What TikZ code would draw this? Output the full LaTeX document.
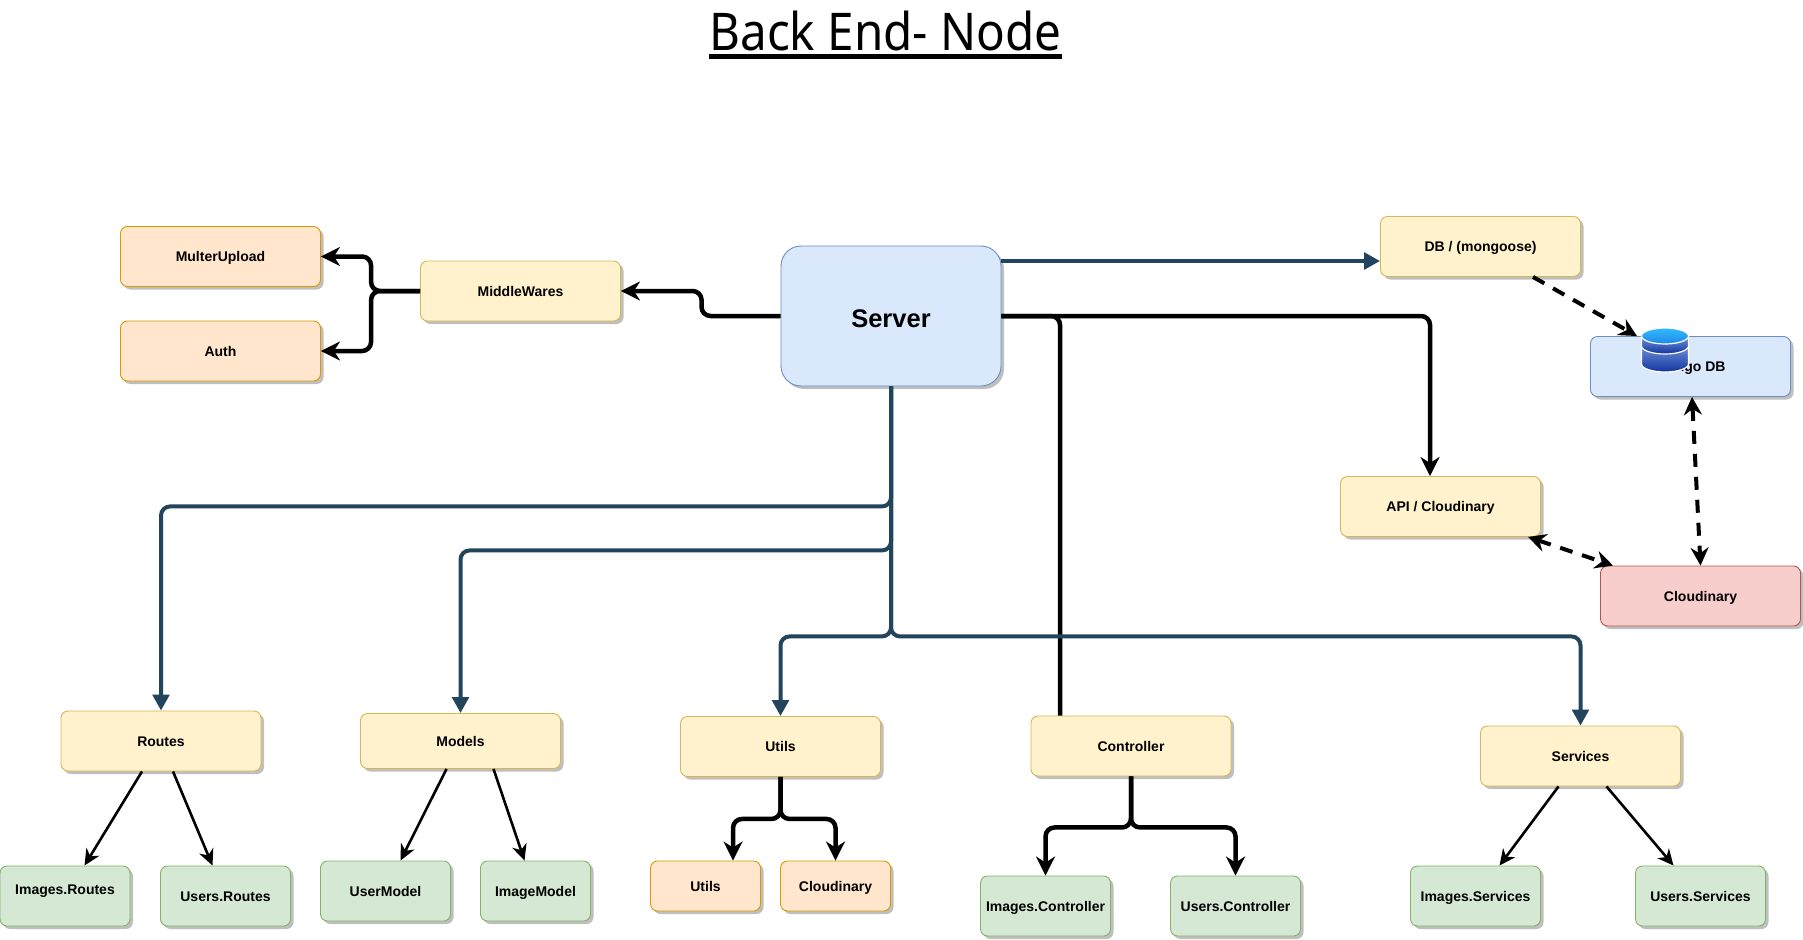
\documentclass[tikz,border=0pt]{standalone}
\usepackage{fontspec}
\setmainfont{Liberation Sans}
\newfontfamily\titlefont[FakeStretch=0.915]{Noto Sans}
\usetikzlibrary{arrows.meta}
\usetikzlibrary{shadows}
\definecolor{linkblue}{HTML}{23445D}
\definecolor{yellowfill}{HTML}{FFF2CC}
\definecolor{yellowline}{HTML}{D6B656}
\definecolor{orangefill}{HTML}{FFE6CC}
\definecolor{orangeline}{HTML}{D79B00}
\definecolor{greenfill}{HTML}{D5E8D4}
\definecolor{greenline}{HTML}{82B366}
\definecolor{bluefill}{HTML}{DAE8FC}
\definecolor{blueline}{HTML}{6C8EBF}
\definecolor{redfill}{HTML}{F8CECC}
\definecolor{redline}{HTML}{B85450}
\definecolor{disctop}{HTML}{7396DC}
\definecolor{discbottom}{HTML}{1234A0}
\definecolor{captop}{HTML}{33BBFF}
\definecolor{capbottom}{HTML}{1E88E6}
\tikzset{
	% Boxes: one base style and one style for each colour
	box/.style={rectangle,rounded corners=7pt,draw,line width=0.9pt,inner sep=0,text height=10.5pt,text depth=0.5pt,font=\bfseries\fontsize{14}{16}\selectfont,drop shadow={shadow xshift=3pt,shadow yshift=-3pt,fill=black!25,draw=none,opacity=1}},
	yellow box/.style={box,fill=yellowfill,draw=yellowline},
	orange box/.style={box,fill=orangefill,draw=orangeline},
	green box/.style={box,fill=greenfill,draw=greenline},
	blue box/.style={box,fill=bluefill,draw=blueline},
	red box/.style={box,fill=redfill,draw=redline},
	% Connectors: black ones and dark blue ones
	black link/.style={draw=black,line width=4.5pt,rounded corners=9pt,-{Stealth[length=19pt,width=19pt,inset=6pt]}},
	thin link/.style={draw=black,line width=2.6pt,-{Stealth[length=16pt,width=15pt,inset=5pt]}},
	blue link/.style={draw=linkblue,line width=4pt,rounded corners=9pt,-{Triangle[length=16pt,width=16.5pt]}},
	dash link/.style={draw=black,line width=4pt,dash pattern=on 13pt off 10pt,-{Stealth[length=18pt,width=18pt,inset=6pt]}},
	both link/.style={dash link,{Stealth[length=18pt,width=18pt,inset=6pt]}-{Stealth[length=18pt,width=18pt,inset=6pt]}},
	% The stacked discs of the database icon
	disc/.style={draw=white,line width=1.2pt,top color=disctop,bottom color=discbottom}
}

\begin{document}
\begin{tikzpicture}[x=1pt,y=-1pt]
	\useasboundingbox (0,-1) rectangle (1803,938);

	\node(title)[inner sep=0,anchor=base,font=\titlefont\fontsize{52}{60}\selectfont] at (885.5,49.7) {Back End- Node};
	\draw[line width=5pt] ([yshift=-6pt]title.base west) -- ([yshift=-6pt]title.base east);

	% Top row
	\node(server)[blue box,minimum width=220pt,minimum height=140pt,rounded corners=20pt,font=\bfseries\fontsize{25.5}{30}\selectfont,text height=24pt] at (891,315) {Server};
	\node(middlewares)[yellow box,minimum width=200pt,minimum height=60pt] at (520.5,290) {MiddleWares};
	\node(multer)[orange box,minimum width=200pt,minimum height=60pt] at (220.5,255.5) {MulterUpload};
	\node(auth)[orange box,minimum width=200pt,minimum height=60pt] at (220.5,350) {Auth};
	\node(db)[yellow box,minimum width=200pt,minimum height=60pt] at (1480.5,245.5) {DB / (mongoose)};
	\node(mongo)[blue box,minimum width=200pt,minimum height=60pt] at (1690.5,365.5) {Mongo DB};
	\node(api)[yellow box,minimum width=200pt,minimum height=60pt] at (1440.5,505.5) {API / Cloudinary};
	\node(cloud)[red box,minimum width=200pt,minimum height=60pt] at (1700.5,595) {Cloudinary};

	% Second level
	\node(routes)[yellow box,minimum width=200pt,minimum height=60pt] at (161,740) {Routes};
	\node(models)[yellow box,minimum width=200pt,minimum height=55pt] at (460.5,740) {Models};
	\node(utils)[yellow box,minimum width=200pt,minimum height=60pt] at (780.5,745.5) {Utils};
	\node(controller)[yellow box,minimum width=200pt,minimum height=60pt] at (1131,745) {Controller};
	\node(services)[yellow box,minimum width=200pt,minimum height=60pt] at (1580.5,755) {Services};

	% Leaves
	\node(imgroutes)[green box,minimum width=130pt,minimum height=60pt] at (65,895) {\raisebox{7pt}{Images.Routes}};
	\node(userroutes)[green box,minimum width=130pt,minimum height=60pt] at (225.5,895) {Users.Routes};
	\node(usermodel)[green box,minimum width=130pt,minimum height=60pt] at (385.5,890) {UserModel};
	\node(imagemodel)[green box,minimum width=110pt,minimum height=60pt] at (535.5,890) {ImageModel};
	\node(utilsub)[orange box,minimum width=110pt,minimum height=50pt] at (705.5,885) {Utils};
	\node(cloudsub)[orange box,minimum width=110pt,minimum height=50pt] at (835.5,885) {Cloudinary};
	\node(imgctrl)[green box,minimum width=130pt,minimum height=60pt] at (1045.5,905) {Images.Controller};
	\node(userctrl)[green box,minimum width=130pt,minimum height=60pt] at (1235.5,905) {Users.Controller};
	\node(imgserv)[green box,minimum width=130pt,minimum height=60pt] at (1475.5,895) {Images.Services};
	\node(userserv)[green box,minimum width=130pt,minimum height=60pt] at (1700.5,895) {Users.Services};

	% Black connectors
	\draw[black link] (server.west) -- ++(-79,0) |- (middlewares.east);
	\draw[black link] (middlewares.west) -- ++(-49,0) |- (multer.east);
	\draw[black link] (middlewares.west) -- ++(-49,0) |- (auth.east);
	\draw[black link] (server.east) -| ([xshift=-10.5pt]api.north);
	\draw[black link,-] (server.east) -| ([xshift=-71pt]controller.north);
	\draw[black link] (utils.south) -- ++(0,42) -| ([xshift=27.5pt]utilsub.north);
	\draw[black link] (utils.south) -- ++(0,42) -| (cloudsub.north);
	\draw[black link] (controller.south) -- ++(0,51) -| (imgctrl.north);
	\draw[black link] (controller.south) -- ++(0,51) -| (userctrl.north);

	% Dark blue connectors
	\draw[blue link] ([yshift=55pt]server.east) -- ([yshift=-14.5pt]db.west);
	\draw[blue link] (server.south) -- ++(0,120) -| (routes.north);
	\draw[blue link] (server.south) -- ++(0,164) -| (models.north);
	\draw[blue link] (server.south) -- ++(0,250) -| (utils.north);
	\draw[blue link] (server.south) -- ++(0,250) -| (services.north);

	% Straight thin connectors
	\draw[thin link] ([xshift=-19pt]routes.south) -- ([xshift=19.5pt]imgroutes.north);
	\draw[thin link] ([xshift=12pt]routes.south) -- ([xshift=-13pt]userroutes.north);
	\draw[thin link] ([xshift=-14pt]models.south) -- ([xshift=15pt]usermodel.north);
	\draw[thin link] ([xshift=33pt]models.south) -- ([xshift=-11pt]imagemodel.north);
	\draw[thin link] ([xshift=-22pt]services.south) -- ([xshift=24pt]imgserv.north);
	\draw[thin link] ([xshift=26pt]services.south) -- ([xshift=-27pt]userserv.north);

	% Dashed connectors
	\draw[dash link] ([xshift=52.5pt]db.south) -- ([xshift=-53.5pt]mongo.north);
	\draw[both link] ([xshift=1.5pt]mongo.south) -- (cloud.north);
	\draw[both link] ([xshift=87.5pt]api.south) -- ([xshift=-87.5pt]cloud.north);

	% Database icon on top of the Mongo DB box
	\path[disc] (1641.5,343) -- (1641.5,363) arc[start angle=180,end angle=360,x radius=23.5pt,y radius=8pt] -- (1688.5,343) -- cycle;
	\path[disc] (1641.5,335) -- (1641.5,345) arc[start angle=180,end angle=360,x radius=23.5pt,y radius=8pt] -- (1688.5,335) -- cycle;
	\path[disc,top color=captop,bottom color=capbottom] (1665,335) ellipse[x radius=23.5pt,y radius=8pt];
\end{tikzpicture}
\end{document}
